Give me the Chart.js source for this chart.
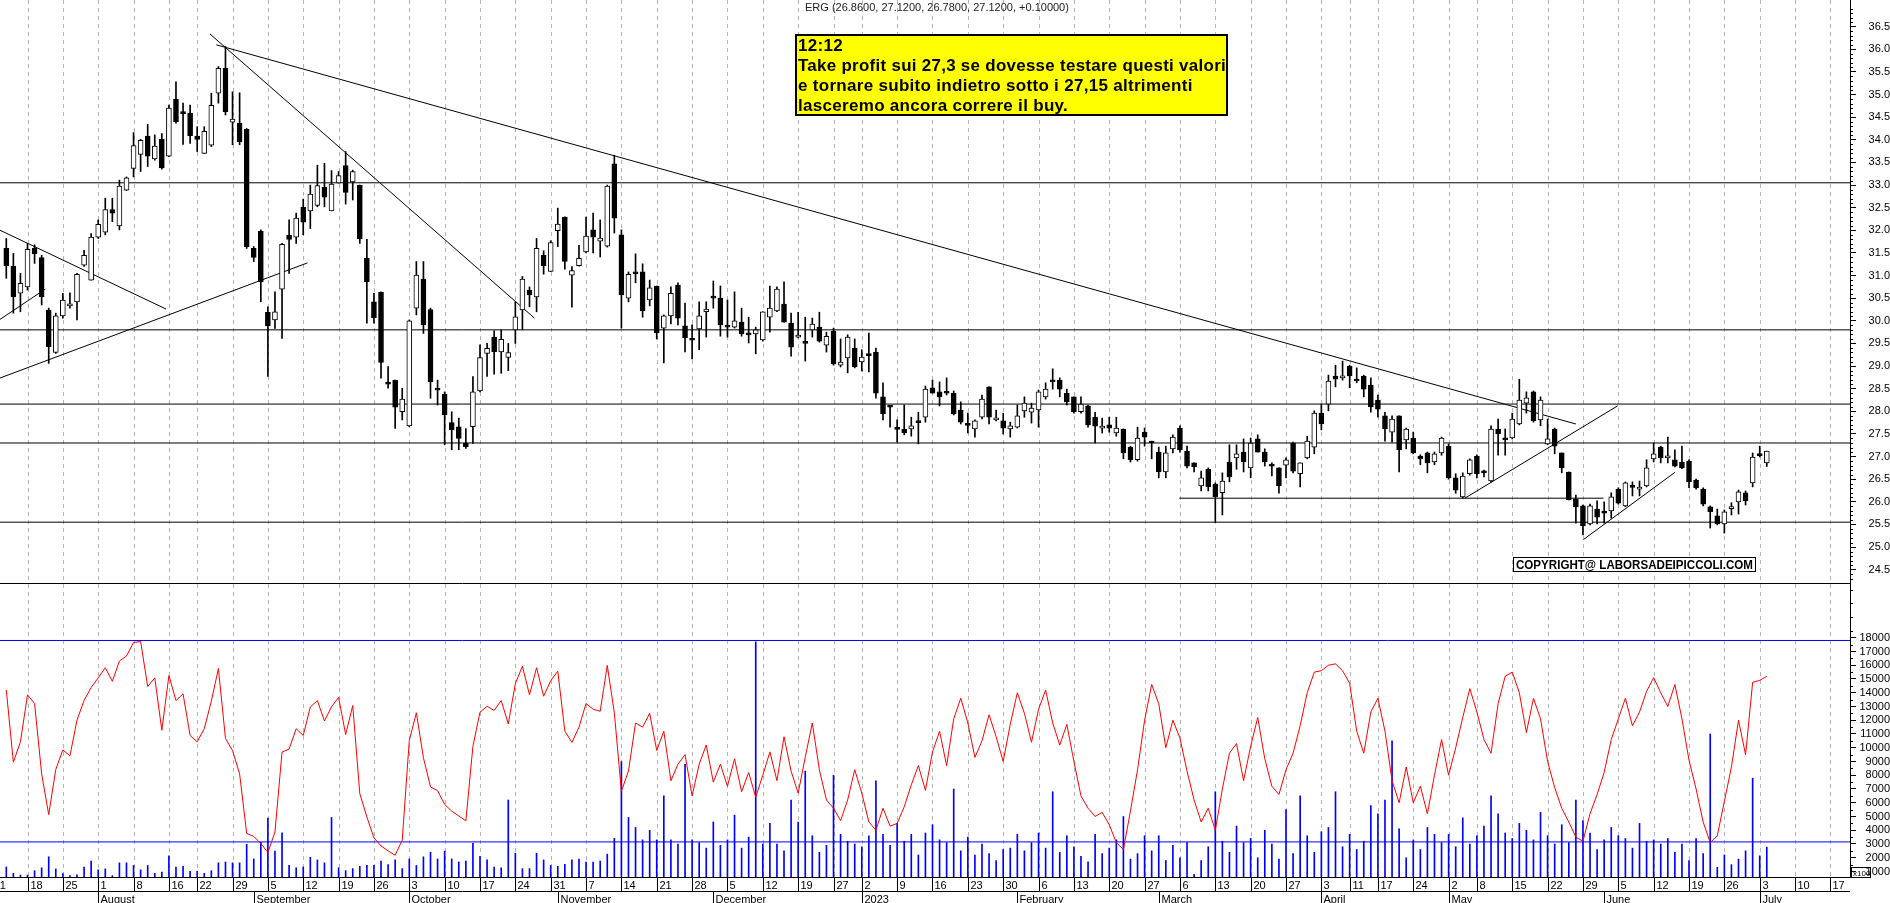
<!DOCTYPE html>
<html>
<head>
<meta charset="utf-8">
<script src="https://cdn.jsdelivr.net/npm/chart.js@4.4.1/dist/chart.umd.min.js"></script>
<style>
  html, body { margin: 0; padding: 0; background: #fff; }
  #wrap { width: 1890px; height: 903px; }
</style>
</head>
<body>
<div id="wrap"><canvas id="ergChart" width="1890" height="903"></canvas></div>
<script>
// ERG daily candles, 13 Jul 2022 -> 4 Jul 2023 (volume in x100)
const firstDay = '2022-07-11';
const lastDay = '2023-07-21';
const holidays = ['2022-08-15', '2022-12-26', '2023-04-07', '2023-04-10', '2023-05-01'];
const monthNames = ['January', 'February', 'March', 'April', 'May', 'June', 'July', 'August', 'September', 'October', 'November', 'December'];
const OFFSET = 2; // first candle is the 3rd trading day (Jul 13)

const open = [
  31.60, 31.21, 30.61, 30.75, 31.60, 31.40, 30.24, 29.30, 30.11, 30.33,
  30.42, 31.23, 30.90, 31.85, 31.96, 32.46, 32.10, 32.89, 33.37, 33.68,
  34.08, 33.58, 34.01, 33.64, 34.90, 34.60, 34.59, 34.08, 33.70, 33.88,
  35.03, 35.58, 34.39, 34.37, 34.23, 31.60, 31.98, 30.19, 30.02, 30.70,
  31.89, 31.85, 32.51, 32.43, 32.55, 32.95, 32.43, 33.05, 33.43, 33.07,
  33.00, 31.38, 30.42, 30.63, 28.62, 28.69, 27.99, 27.68, 30.28, 30.92,
  30.25, 28.49, 28.38, 27.75, 27.66, 27.29, 27.66, 28.45, 29.28, 29.64,
  29.31, 29.19, 29.80, 30.24, 30.68, 30.53, 31.45, 31.09, 31.99, 32.29,
  31.01, 31.22, 31.52, 32.01, 31.76, 31.65, 33.47, 31.90, 30.50, 31.06,
  31.08, 30.46, 30.77, 29.84, 30.11, 30.79, 29.89, 29.60, 29.82, 30.20,
  30.52, 30.50, 29.89, 29.86, 29.97, 29.73, 29.71, 29.58, 30.08, 30.22,
  30.37, 29.95, 29.64, 29.52, 29.80, 29.86, 29.46, 29.77, 29.02, 29.18,
  29.40, 29.09, 29.25, 29.31, 28.32, 28.12, 27.62, 27.61, 27.61, 27.77,
  27.87, 28.52, 28.43, 28.42, 28.40, 28.03, 27.71, 27.61, 27.87, 28.54,
  27.81, 27.79, 27.61, 27.65, 28.01, 27.98, 28.03, 28.32, 28.67, 28.69,
  28.40, 28.32, 27.99, 28.12, 27.87, 27.63, 27.70, 27.52, 27.61, 27.21,
  26.93, 27.54, 27.32, 27.10, 26.66, 27.17, 27.63, 27.12, 26.86, 26.35,
  26.72, 26.39, 26.20, 26.88, 26.97, 27.10, 26.75, 27.39, 27.10, 26.81,
  26.75, 26.81, 27.30, 26.62, 26.97, 27.21, 27.96, 28.16, 28.78, 28.74,
  29.00, 28.69, 28.78, 28.58, 28.25, 27.90, 27.54, 27.90, 27.37, 27.41,
  27.01, 27.08, 26.88, 27.08, 27.23, 26.53, 26.11, 26.62, 27.01, 26.66,
  26.46, 27.61, 27.39, 27.41, 27.72, 28.18, 28.43, 27.81, 27.28, 27.61,
  27.08, 26.66, 26.06, 25.91, 25.51, 25.84, 25.76, 25.80, 26.28, 25.91,
  26.34, 26.28, 26.35, 26.95, 27.21, 26.97, 26.93, 26.88, 26.90, 26.48,
  26.28, 25.89, 25.69, 25.51, 25.85, 26.00, 26.20, 26.42, 27.03, 26.86
];
const high = [
  31.82, 31.49, 31.05, 31.71, 31.68, 31.45, 30.28, 30.17, 30.61, 30.62,
  31.05, 31.56, 31.93, 32.23, 32.71, 32.71, 33.11, 33.18, 34.16, 34.01,
  34.34, 34.11, 34.14, 34.77, 35.28, 34.81, 34.77, 34.29, 34.29, 35.03,
  35.62, 36.06, 35.06, 35.04, 34.25, 31.64, 32.01, 30.31, 30.64, 31.71,
  32.23, 32.38, 32.69, 33.00, 33.44, 33.48, 33.32, 33.30, 33.74, 33.33,
  33.00, 31.80, 30.61, 30.64, 28.99, 28.69, 28.51, 30.02, 31.31, 31.31,
  30.28, 28.69, 28.43, 27.99, 27.85, 27.62, 28.77, 29.47, 29.50, 29.78,
  29.80, 29.50, 30.42, 30.98, 30.75, 31.82, 31.55, 31.77, 32.49, 32.30,
  31.20, 31.67, 32.29, 32.38, 32.23, 33.00, 33.66, 32.01, 31.08, 31.48,
  31.26, 30.90, 30.77, 30.13, 30.75, 30.84, 30.39, 29.91, 30.42, 30.42,
  30.88, 30.77, 30.46, 30.64, 30.28, 30.08, 29.86, 30.20, 30.77, 30.75,
  30.86, 30.17, 30.19, 30.08, 30.06, 30.19, 29.75, 29.84, 29.60, 29.69,
  29.60, 29.36, 29.73, 29.40, 28.63, 28.12, 27.81, 28.14, 27.87, 27.98,
  28.56, 28.69, 28.65, 28.74, 28.45, 28.21, 27.96, 27.81, 28.36, 28.54,
  28.03, 27.96, 27.76, 28.14, 28.32, 28.18, 28.47, 28.63, 28.94, 28.74,
  28.49, 28.32, 28.32, 28.14, 27.98, 27.85, 27.87, 27.87, 27.61, 27.23,
  27.65, 27.63, 27.34, 27.21, 27.23, 27.48, 27.68, 27.23, 26.86, 26.68,
  26.75, 26.42, 26.64, 27.26, 27.26, 27.39, 27.41, 27.48, 27.17, 26.86,
  26.75, 26.97, 27.32, 26.86, 27.45, 28.01, 28.16, 28.80, 29.02, 29.11,
  29.02, 28.96, 28.80, 28.74, 28.36, 27.98, 27.90, 27.90, 27.63, 27.54,
  27.04, 27.10, 27.10, 27.43, 27.28, 26.62, 26.64, 26.95, 27.04, 26.70,
  27.68, 27.83, 27.61, 27.96, 28.71, 28.43, 28.45, 28.32, 27.83, 27.63,
  27.08, 26.66, 26.15, 25.93, 25.95, 26.02, 26.00, 26.20, 26.31, 26.44,
  26.44, 26.46, 26.93, 27.30, 27.23, 27.43, 27.15, 27.23, 26.93, 26.50,
  26.31, 25.91, 25.84, 25.82, 25.98, 26.26, 26.24, 27.08, 27.23, 27.12
];
const low = [
  30.94, 30.17, 30.20, 30.68, 31.27, 30.35, 29.06, 29.28, 30.06, 30.28,
  30.02, 31.20, 30.90, 31.82, 31.90, 32.19, 32.01, 32.88, 33.18, 33.30,
  33.41, 33.55, 33.35, 33.63, 34.37, 33.90, 33.92, 33.74, 33.70, 33.85,
  34.81, 34.55, 33.89, 33.89, 31.60, 31.31, 30.42, 28.77, 29.83, 29.61,
  31.05, 31.71, 31.90, 32.04, 32.52, 32.52, 32.43, 33.04, 32.58, 32.67,
  31.71, 29.95, 29.95, 28.73, 28.51, 27.62, 27.81, 27.66, 30.13, 29.72,
  28.29, 28.14, 27.26, 27.15, 27.15, 27.18, 27.29, 28.43, 28.77, 28.82,
  28.84, 28.90, 29.50, 29.80, 30.31, 30.20, 31.03, 31.09, 31.64, 31.14,
  30.30, 31.21, 31.50, 31.50, 31.41, 31.63, 31.94, 29.84, 30.42, 30.84,
  30.08, 30.33, 29.60, 29.07, 29.93, 29.91, 29.31, 29.16, 29.36, 29.64,
  30.28, 29.66, 29.64, 29.84, 29.66, 29.51, 29.27, 29.55, 29.75, 30.20,
  29.97, 29.22, 29.62, 29.11, 29.64, 29.53, 29.31, 29.02, 28.98, 28.85,
  28.96, 28.89, 28.87, 28.29, 27.81, 27.65, 27.32, 27.48, 27.45, 27.28,
  27.76, 28.40, 28.12, 28.36, 27.92, 27.72, 27.52, 27.43, 27.83, 27.72,
  27.79, 27.50, 27.43, 27.63, 27.87, 27.74, 27.65, 28.27, 28.49, 28.32,
  28.14, 27.96, 27.96, 27.65, 27.30, 27.52, 27.54, 27.45, 26.95, 26.88,
  26.90, 27.23, 26.95, 26.53, 26.53, 27.08, 27.10, 26.75, 26.66, 26.24,
  26.24, 25.55, 25.71, 26.44, 26.72, 26.66, 26.53, 27.10, 26.79, 26.57,
  26.19, 26.53, 26.64, 26.33, 26.95, 27.06, 27.59, 28.01, 28.54, 28.69,
  28.52, 28.63, 28.32, 27.98, 27.87, 27.34, 27.32, 26.66, 27.17, 27.06,
  26.82, 26.64, 26.82, 27.03, 26.50, 26.19, 26.08, 26.59, 26.53, 26.55,
  26.44, 27.03, 27.03, 27.39, 27.70, 27.96, 27.76, 27.68, 27.26, 27.06,
  26.64, 26.04, 25.53, 25.27, 25.49, 25.51, 25.53, 25.64, 25.95, 25.89,
  26.13, 26.13, 26.33, 26.88, 26.86, 26.86, 26.77, 26.73, 26.31, 26.28,
  25.91, 25.42, 25.49, 25.31, 25.71, 25.73, 25.93, 26.33, 26.99, 26.78
];
const close = [
  31.22, 30.53, 30.83, 31.58, 31.48, 30.53, 29.43, 30.11, 30.46, 30.37,
  31.03, 31.45, 31.85, 32.13, 32.46, 32.38, 32.98, 33.16, 33.87, 33.99,
  33.64, 33.86, 33.38, 34.70, 34.40, 34.58, 34.09, 34.01, 34.19, 34.76,
  35.58, 34.62, 34.46, 33.96, 31.64, 31.40, 30.86, 29.89, 30.20, 31.69,
  31.80, 32.27, 32.18, 32.80, 32.99, 32.73, 33.02, 33.21, 32.84, 33.30,
  31.81, 30.86, 30.07, 29.08, 28.60, 28.09, 28.27, 30.00, 31.01, 29.91,
  28.65, 28.47, 27.92, 27.59, 27.40, 27.22, 28.43, 29.19, 29.39, 29.32,
  29.59, 29.30, 30.09, 30.92, 30.57, 31.60, 31.22, 31.73, 32.14, 31.31,
  31.11, 31.38, 31.87, 31.85, 31.83, 32.98, 32.27, 30.57, 31.03, 31.04,
  30.22, 30.73, 29.73, 30.11, 30.61, 30.06, 29.62, 29.57, 30.11, 30.26,
  30.50, 29.91, 29.86, 30.00, 29.71, 29.69, 29.80, 30.20, 30.28, 30.70,
  29.97, 29.42, 29.66, 29.50, 29.93, 29.55, 29.66, 29.05, 29.09, 29.64,
  28.98, 29.20, 29.23, 28.40, 27.94, 28.09, 27.60, 27.52, 27.68, 27.75,
  28.49, 28.40, 28.32, 28.40, 27.94, 27.76, 27.69, 27.79, 28.27, 27.87,
  27.85, 27.63, 27.68, 27.90, 28.18, 28.07, 28.43, 28.49, 28.65, 28.49,
  28.21, 27.99, 28.16, 27.70, 27.67, 27.65, 27.63, 27.63, 27.08, 26.93,
  27.41, 27.43, 27.30, 26.66, 27.08, 27.43, 27.15, 26.79, 26.77, 26.53,
  26.33, 26.11, 26.46, 26.55, 27.06, 26.88, 27.30, 27.10, 26.88, 26.79,
  26.35, 26.93, 26.68, 26.86, 27.34, 27.96, 27.72, 28.67, 28.71, 28.78,
  28.78, 28.67, 28.49, 28.10, 28.05, 27.61, 27.83, 27.15, 27.61, 27.08,
  26.95, 26.86, 27.06, 27.41, 26.53, 26.26, 26.57, 26.93, 26.62, 26.64,
  27.61, 27.50, 27.37, 27.83, 28.25, 28.30, 27.79, 28.25, 27.39, 27.23,
  26.75, 26.04, 25.89, 25.47, 25.91, 25.66, 25.75, 26.11, 25.97, 26.42,
  26.32, 26.30, 26.75, 27.06, 26.97, 26.99, 26.79, 26.75, 26.44, 26.31,
  25.95, 25.78, 25.51, 25.78, 25.87, 26.22, 26.02, 26.99, 27.02, 27.12
];
const volume = [
  1330, 870, 740, 740, 1060, 1270, 2070, 1190, 850, 700,
  760, 1330, 1760, 1120, 1190, 700, 1630, 1630, 1440, 1120,
  1440, 870, 950, 2140, 1330, 1380, 1020, 1020, 870, 1060,
  1630, 1690, 1630, 1630, 2980, 1910, 3130, 4890, 2480, 3810,
  1440, 1270, 1330, 2030, 1840, 1630, 4930, 1270, 1060, 1210,
  1380, 1440, 1440, 1760, 1500, 1840, 1210, 1910, 1440, 2070,
  2410, 1910, 2480, 1910, 1690, 1760, 3050, 2100, 1840, 1330,
  1270, 6200, 2330, 1210, 1210, 2330, 1840, 1440, 1380, 1520,
  1840, 1910, 1690, 1690, 1760, 2260, 3410, 8990, 4930, 4200,
  3300, 4000, 3300, 6500, 3300, 3000, 8800, 3300, 3100, 2700,
  4600, 2900, 3300, 5100, 2700, 3500, 17700, 3000, 4500, 3000,
  2500, 6200, 4600, 8300, 3600, 2400, 2900, 8000, 3700, 3200,
  3000, 2800, 3600, 7600, 3700, 2900, 4500, 3200, 3700, 2200,
  3800, 4400, 3300, 3100, 7000, 2500, 3500, 2200, 3000, 2300,
  1800, 2600, 2700, 3700, 2500, 3100, 3800, 2700, 6800, 2400,
  3600, 2800, 2100, 1700, 3700, 2300, 2700, 3300, 5000, 1900,
  2300, 3600, 2500, 3600, 1800, 2900, 2000, 3100, 800, 1800,
  2800, 6800, 3200, 2400, 4300, 3100, 3400, 2000, 4000, 3000,
  1900, 5500, 2300, 6500, 3600, 2400, 3900, 4200, 6800, 2800,
  3700, 2600, 3200, 5800, 5200, 6200, 10500, 4100, 2000, 3300,
  2600, 4200, 3700, 3100, 3700, 2800, 4900, 3000, 3600, 4300,
  6500, 5200, 3800, 3400, 4500, 4000, 3300, 5300, 3600, 3000,
  4400, 3100, 6200, 4700, 3800, 2600, 3300, 4200, 3600, 3400,
  2700, 4500, 3200, 3300, 3000, 3400, 2400, 3000, 1800, 3400,
  2300, 11000, 1300, 2200, 1500, 1900, 2500, 7785, 2140, 2770
];
const oscillator = [
  14200, 8950, 10430, 13850, 13220, 8100, 5140, 8420, 9840, 9410,
  12010, 13430, 14380, 15080, 15820, 14830, 16310, 16670, 17660, 17720,
  14450, 15080, 11270, 15250, 13430, 13920, 10890, 10430, 11380, 13390,
  15760, 10680, 9790, 8100, 3770, 3550, 3030, 2390, 3870, 9690,
  9900, 11380, 10890, 12970, 13430, 11950, 12970, 13660, 10960, 13070,
  6660, 4970, 3450, 2860, 2500, 2180, 3280, 10530, 12540, 9270,
  7150, 6880, 5880, 5390, 5040, 4680, 10110, 12590, 13010, 12710,
  13430, 11740, 14660, 15930, 13850, 15820, 13750, 14870, 15570, 11210,
  10390, 11490, 13220, 12800, 12650, 15990, 12540, 6830, 8310, 11800,
  11500, 12500, 9800, 11200, 7600, 8800, 9500, 6500, 8800, 10200,
  7500, 8800, 7200, 9200, 6800, 8200, 6400, 8000, 9700, 7600,
  10800, 8300, 6700, 9300, 11800, 8400, 6200, 5600, 4700, 6200,
  8400, 6700, 4600, 4000, 5600, 4300, 4500, 5700, 7300, 8700,
  6900, 9700, 11200, 8700, 12100, 13600, 11800, 9300, 10500, 12400,
  10800, 9000, 11700, 14000, 12500, 10400, 12800, 14200, 11800, 10200,
  11700, 9000, 6500, 5600, 5000, 5300, 4400, 3100, 2600, 5400,
  8400, 12000, 14600, 13200, 10000, 12000, 10700, 8300, 6200, 4600,
  5600, 4000, 7000, 9600, 10300, 7600, 10100, 12200, 9200, 7200,
  6600, 8400, 9600, 11600, 14000, 15500, 15600, 16000, 16100, 15600,
  14700, 11200, 9600, 12600, 13600, 11200, 7600, 6000, 8600, 6000,
  7200, 5200, 8000, 10600, 8000, 10000, 12200, 14300, 12600, 10600,
  9600, 13200, 15200, 15500, 14000, 11100, 13600, 12100, 9000, 7100,
  5600, 4600, 3500, 3200, 5200, 6600, 8200, 10600, 12100, 13600,
  11600, 12600, 14100, 15100, 14000, 13000, 14600, 12100, 9100, 7000,
  4600, 3100, 3600, 6100, 8600, 12000, 9500, 14760, 14900, 15190
];

const priceTicks = [24.5, 25, 25.5, 26, 26.5, 27, 27.5, 28, 28.5, 29, 29.5, 30, 30.5,
  31, 31.5, 32, 32.5, 33, 33.5, 34, 34.5, 35, 35.5, 36, 36.5];
const volumeTicks = [1000, 2000, 3000, 4000, 5000, 6000, 7000, 8000, 9000, 10000,
  11000, 12000, 13000, 14000, 15000, 16000, 17000, 18000];

// horizontal price levels and volume bands
const priceLevels = [33.05, 29.8, 28.16, 27.3, 25.55];
const volumeLevels = [17800, 3150];
// trend lines: [candle index, price, candle index, price]
const trendLines = [
  [29.7, 36.10, 222.0, 27.72],
  [28.8, 36.34, 74.7, 30.06],
  [-1, 28.73, 42.6, 31.28],
  [-1, 32.01, 22.6, 30.26],
  [-1, 30.02, 5.5, 30.70],
  [206.3, 26.08, 227.9, 28.12],
  [223.1, 25.17, 236.0, 26.65],
  [165.9, 26.08, 225.9, 26.08]
];

const noteLines = [
  '12:12',
  'Take profit sui 27,3 se dovesse testare questi valori',
  'e tornare subito indietro sotto i 27,15 altrimenti',
  'lasceremo ancora correre il buy.'
];

// trading calendar
const days = [];
for (let d = new Date(firstDay + 'T00:00:00Z'); d <= new Date(lastDay + 'T00:00:00Z'); d.setUTCDate(d.getUTCDate() + 1)) {
  const wd = d.getUTCDay();
  if (wd === 0 || wd === 6 || holidays.includes(d.toISOString().slice(0, 10))) continue;
  days.push(new Date(d.getTime()));
}
const weekStarts = [];
const monthStarts = [];
days.forEach((d, k) => {
  if (k === 0 || d.getUTCDay() < days[k - 1].getUTCDay()) weekStarts.push(k);
  if (k > 0 && d.getUTCMonth() !== days[k - 1].getUTCMonth()) monthStarts.push(k);
});

const X_MIN = 1.11, X_MAX = 262.77;
const n = close.length;
const xAt = i => i + OFFSET;

const bodies = close.map((c, i) => ({x: xAt(i), y: [Math.min(open[i], c), Math.max(open[i], c)]}));
const wicks = close.map((c, i) => ({x: xAt(i), y: [low[i], high[i]]}));
const volBars = volume.map((v, i) => ({x: xAt(i), y: v}));
const oscPoints = oscillator.map((v, i) => ({x: xAt(i), y: v}));

const lineSet = (data, axis, color, order) => ({
  type: 'line', data, yAxisID: axis, borderColor: color, borderWidth: 1,
  pointRadius: 0, tension: 0, order, fill: false
});

const datasets = [
  {type: 'bar', data: bodies, yAxisID: 'y', grouped: false, barThickness: 5, minBarLength: 2,
   backgroundColor: c => close[c.dataIndex] >= open[c.dataIndex] ? '#ffffff' : '#000000',
   borderColor: '#000', borderWidth: 1, borderSkipped: false, order: 0},
  {type: 'bar', data: wicks, yAxisID: 'y', grouped: false, barThickness: 1,
   backgroundColor: '#000', borderWidth: 0, order: 1},
  {type: 'bar', data: volBars, yAxisID: 'yv', grouped: false, barThickness: 1,
   backgroundColor: '#0000ff', borderWidth: 0, order: 5},
  lineSet(oscPoints, 'yv', '#ff0000', 4)
];
priceLevels.forEach(p => datasets.push(lineSet([{x: X_MIN, y: p}, {x: X_MAX, y: p}], 'y', '#000', 2)));
trendLines.forEach(t => datasets.push(lineSet([{x: xAt(t[0]), y: t[1]}, {x: xAt(t[2]), y: t[3]}], 'y', '#000', 2)));
volumeLevels.forEach(v => datasets.push(lineSet([{x: X_MIN, y: v}, {x: X_MAX, y: v}], 'yv', '#0000ff', 6)));

const FONT = "'Liberation Sans', Arial, sans-serif";

const overlay = {
  id: 'overlay',
  beforeDraw(chart) {
    const {ctx, width, height} = chart;
    ctx.save();
    ctx.fillStyle = '#fff';
    ctx.fillRect(0, 0, width, height);
    ctx.restore();
  },
  beforeDatasetsDraw(chart) {
    const {ctx, chartArea: ca, scales: {x}} = chart;
    ctx.save();
    ctx.strokeStyle = '#b4b4b4';
    ctx.lineWidth = 1;
    ctx.setLineDash([4, 4]);
    weekStarts.forEach(k => {
      const px = Math.round(x.getPixelForValue(k)) + 0.5;
      if (px < ca.left || px > ca.right) return;
      ctx.beginPath(); ctx.moveTo(px, ca.top); ctx.lineTo(px, ca.bottom); ctx.stroke();
    });
    ctx.restore();
  },
  afterDraw(chart) {
    const {ctx, chartArea: ca, scales: {x, y, yv}} = chart;
    ctx.save();
    ctx.strokeStyle = '#000';
    ctx.fillStyle = '#000';
    ctx.lineWidth = 1;
    const hline = (x1, x2, yy) => { ctx.beginPath(); ctx.moveTo(x1, yy); ctx.lineTo(x2, yy); ctx.stroke(); };
    const vline = (xx, y1, y2) => { ctx.beginPath(); ctx.moveTo(xx, y1); ctx.lineTo(xx, y2); ctx.stroke(); };

    // panel separator
    hline(0, ca.right, Math.round(y.bottom) + 0.5);

    // minor ticks on the right axes
    for (let v = 24.3; v < 37.05; v += 0.1) {
      const r = Math.round(v * 10);
      if (r % 5 === 0) continue;
      const py = Math.round(y.getPixelForValue(r / 10)) + 0.5;
      hline(ca.right, ca.right + 3, py);
    }
    for (let v = 1500; v <= 21500; v += 1000) {
      const py = Math.round(yv.getPixelForValue(v)) + 0.5;
      hline(ca.right, ca.right + 3, py);
    }

    // date rows
    const rowTop = Math.round(ca.bottom) + 0.5;
    const rowMid = rowTop + 14;
    hline(0, ca.right, rowTop);
    hline(0, ca.right, rowMid);
    ctx.font = '11px ' + FONT;
    ctx.textBaseline = 'alphabetic';
    ctx.textAlign = 'left';
    weekStarts.forEach(k => {
      const px = Math.round(x.getPixelForValue(k)) + 0.5;
      if (px > ca.right) return;
      vline(px, rowTop, rowMid);
      ctx.fillText(String(days[k].getUTCDate()), px + 2, rowTop + 11);
    });
    monthStarts.forEach(k => {
      const px = Math.round(x.getPixelForValue(k)) + 0.5;
      if (px > ca.right) return;
      const m = days[k].getUTCMonth();
      const label = m === 0 ? String(days[k].getUTCFullYear()) : monthNames[m];
      vline(px, rowMid, chart.height);
      ctx.fillText(label, px + 2, rowMid + 11);
    });

    // x100 box
    ctx.font = '8px ' + FONT;
    ctx.strokeRect(ca.right + 1.5, rowTop - 10, 19, 10);
    ctx.fillText('x100', ca.right + 3, rowTop - 2);

    // header
    const last = n - 1;
    const chg = close[last] - close[last - 1];
    ctx.font = '11px ' + FONT;
    ctx.fillStyle = '#222';
    ctx.fillText('ERG (' + open[last].toFixed(4) + ', ' + high[last].toFixed(4) + ', ' + low[last].toFixed(4) + ', ' +
      close[last].toFixed(4) + ', ' + (chg >= 0 ? '+' : '') + chg.toFixed(5) + ')', 805, 11);

    // note box
    ctx.fillStyle = '#ffff00';
    ctx.fillRect(795, 34, 433, 82);
    ctx.lineWidth = 2;
    ctx.strokeStyle = '#000';
    ctx.strokeRect(796, 35, 431, 80);
    ctx.fillStyle = '#000';
    ctx.font = 'bold 17px ' + FONT;
    ctx.letterSpacing = '0.3px';
    noteLines.forEach((t, j) => ctx.fillText(t, 798, 51 + j * 20, 428));
    ctx.letterSpacing = '0px';

    // copyright
    ctx.lineWidth = 1;
    ctx.fillStyle = '#fff';
    ctx.fillRect(1513, 557, 243, 15);
    ctx.strokeRect(1513.5, 557.5, 242, 14);
    ctx.fillStyle = '#000';
    ctx.font = 'bold 12px ' + FONT;
    ctx.fillText('COPYRIGHT@ LABORSADEIPICCOLI.COM', 1516, 569, 237);
    ctx.restore();
  }
};

const axisFont = {family: FONT, size: 11};

new Chart(document.getElementById('ergChart').getContext('2d'), {
  type: 'bar',
  data: {datasets},
  options: {
    responsive: false,
    devicePixelRatio: 1,
    animation: false,
    events: [],
    layout: {padding: {left: 0, top: 0, right: 0, bottom: 26}},
    plugins: {legend: {display: false}, tooltip: {enabled: false}},
    scales: {
      x: {
        type: 'linear', min: X_MIN, max: X_MAX, offset: false, display: false,
        grid: {offset: false}
      },
      y: {
        type: 'linear', position: 'right', stack: 'panes', stackWeight: 583,
        min: 24.206, max: 37.09,
        afterBuildTicks: s => { s.ticks = priceTicks.map(v => ({value: v})); },
        afterFit: s => { s.width = 40; s.paddingTop = 0; s.paddingBottom = 0; },
        ticks: {color: '#000', font: axisFont, padding: 10, crossAlign: 'far', autoSkip: false,
          callback: v => Number(v).toFixed(1)},
        grid: {drawOnChartArea: false, drawTicks: true, tickLength: 6, color: '#000'},
        border: {display: true, color: '#000'}
      },
      yv: {
        type: 'linear', position: 'right', stack: 'panes', stackWeight: 294,
        min: 600, max: 21980,
        afterBuildTicks: s => { s.ticks = volumeTicks.map(v => ({value: v})); },
        afterFit: s => { s.width = 40; s.paddingTop = 0; s.paddingBottom = 0; },
        ticks: {color: '#000', font: axisFont, padding: 0, crossAlign: 'far', autoSkip: false,
          callback: v => String(v)},
        grid: {drawOnChartArea: false, drawTicks: true, tickLength: 6, color: '#000'},
        border: {display: true, color: '#000'}
      }
    }
  },
  plugins: [overlay]
});
</script>
</body>
</html>
